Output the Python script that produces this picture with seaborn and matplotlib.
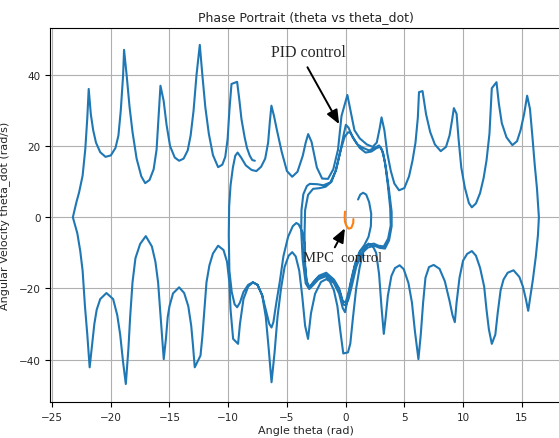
import numpy as np
import pandas as pd
import matplotlib
matplotlib.use("Agg")
import matplotlib.pyplot as plt
import seaborn as sns

# ---- PID trajectory (theta [rad], theta_dot [rad/s]), in time order ----
pid_start = [(1.06, 5.0), (1.25, 6.4), (1.49, 6.9), (1.75, 6.4), (2.0, 4.3), (2.18, 1.0),
             (2.15, -2.5), (1.95, -5.5), (1.6, -7.8), (1.2, -9.6), (0.85, -12.5), (0.55, -16.5),
             (0.25, -21.0), (0.0, -24.0), (-0.25, -23.5), (-0.55, -20.0), (-1.0, -17.5),
             (-1.65, -15.6), (-2.25, -16.4), (-2.75, -18.2), (-3.05, -19.6)]

pid_loop_1 = [(-3.3, -18.5), (-3.45, -13.5), (-3.5, -5.0), (-3.45, 2.0), (-3.2, 6.3), (-2.77, 8.0),
              (-2.2, 8.2), (-1.7, 8.6), (-1.2, 10.0), (-0.8, 13.5), (-0.45, 18.5), (-0.15, 23.5),
              (0.02, 26.0), (0.25, 25.2), (0.6, 22.5), (1.0, 20.5), (1.5, 19.5), (2.0, 18.8),
              (2.5, 19.6), (2.85, 20.2), (3.1, 19.0), (3.35, 15.5), (3.6, 9.0), (3.8, 2.5),
              (3.84, -2.3), (3.62, -6.0), (3.25, -8.2), (2.8, -8.0), (2.4, -7.4), (1.85, -7.8),
              (1.25, -9.6), (0.8, -13.5), (0.45, -18.5), (0.15, -23.5), (-0.05, -26.7),
              (-0.25, -25.5), (-0.55, -21.5), (-1.0, -18.5), (-1.7, -16.6), (-2.3, -17.4),
              (-2.8, -19.2), (-3.1, -20.2)]

pid_loop_2 = [(-3.4, -18.6), (-3.65, -12.0), (-3.78, -4.0), (-3.76, 2.0), (-3.6, 6.5), (-3.3, 8.8),
              (-3.05, 9.4), (-2.4, 9.3), (-1.9, 9.0), (-1.3, 9.8), (-0.85, 13.0), (-0.45, 18.5),
              (-0.1, 22.5), (0.2, 23.9), (0.4, 23.8), (0.75, 21.8), (1.2, 19.5), (1.7, 18.2),
              (2.2, 18.5), (2.65, 19.5), (2.95, 19.8), (3.2, 18.0), (3.45, 13.5), (3.7, 7.5),
              (3.92, 1.5), (3.92, -2.5), (3.7, -6.5), (3.35, -8.8), (2.9, -8.6), (2.45, -8.0),
              (1.9, -8.5), (1.35, -10.2), (0.9, -14.0), (0.55, -19.0), (0.25, -23.0),
              (0.0, -24.8), (-0.2, -24.5), (-0.5, -21.0), (-1.0, -17.8), (-1.7, -16.0),
              (-2.3, -16.8), (-2.8, -18.6), (-3.1, -19.8)]

pid_escape_left = [(-3.35, -17.5), (-3.5, -12.0), (-3.5, -7.5), (-3.7, -4.0), (-4.0, -2.0),
                   (-4.2, -1.6), (-4.5, -2.5), (-4.9, -5.5), (-5.3, -11.0), (-5.6, -18.0),
                   (-5.9, -24.0), (-6.15, -29.5), (-6.31, -31.0), (-6.5, -30.0), (-6.8, -26.0),
                   (-7.1, -22.0), (-7.5, -19.0), (-7.9, -18.3), (-8.3, -19.0), (-8.7, -21.0),
                   (-9.0, -24.0), (-9.24, -25.3), (-9.45, -24.5), (-9.7, -21.0), (-9.9, -15.0),
                   (-9.95, -5.0), (-9.92, 3.0), (-9.8, 9.0), (-9.6, 14.0), (-9.4, 17.3),
                   (-9.2, 18.2)]

pid_swing_right = [(-8.9, 16.8), (-8.5, 14.6), (-8.0, 13.3), (-7.6, 13.0), (-7.2, 14.2),
                   (-6.85, 16.5), (-6.6, 21.0), (-6.45, 27.0), (-6.32, 31.4), (-6.1, 28.5),
                   (-5.85, 24.5), (-5.45, 18.5), (-5.0, 13.0), (-4.55, 11.4), (-4.1, 12.8),
                   (-3.65, 17.3), (-3.4, 21.0), (-3.19, 23.4), (-2.9, 21.2), (-2.45, 14.0),
                   (-2.0, 10.9), (-1.5, 10.8), (-1.05, 13.5), (-0.65, 19.0), (-0.35, 28.5),
                   (-0.1, 31.5), (0.15, 34.4), (0.45, 29.5), (0.75, 24.5), (1.2, 22.2),
                   (1.8, 20.5), (2.3, 19.8), (2.65, 21.0), (2.9, 25.0), (3.06, 28.1),
                   (3.3, 24.5), (3.55, 18.0), (3.85, 13.0), (4.15, 9.5), (4.55, 7.6), (5.0, 8.2),
                   (5.4, 11.5), (5.7, 16.0), (5.95, 21.0), (6.15, 28.0), (6.25, 35.2),
                   (6.55, 35.5), (6.85, 29.0), (7.2, 24.0), (7.6, 20.5), (8.1, 18.6),
                   (8.55, 19.8), (8.85, 23.0), (9.05, 27.0), (9.22, 30.7), (9.45, 29.1),
                   (9.62, 22.0), (9.85, 14.0), (10.15, 8.4), (10.5, 4.0), (10.75, 2.8),
                   (11.1, 3.9), (11.45, 6.8), (11.75, 11.0), (12.0, 16.0), (12.25, 23.5),
                   (12.45, 36.3), (12.85, 38.0), (13.05, 32.0), (13.3, 26.5), (13.7, 22.5),
                   (14.2, 20.3), (14.6, 21.4), (14.9, 24.5), (15.2, 29.0), (15.46, 34.2),
                   (15.7, 30.5), (15.9, 23.0), (16.1, 15.0), (16.3, 8.0), (16.46, 0.0)]

pid_swing_left = [(16.38, -5.0), (16.2, -11.0), (15.95, -17.5), (15.75, -22.0), (15.55, -26.3),
                  (15.35, -23.0), (15.1, -19.5), (14.8, -16.8), (14.3, -14.9), (13.8, -15.6),
                  (13.45, -17.5), (13.2, -20.5), (12.95, -27.0), (12.75, -33.0), (12.45, -35.6),
                  (12.2, -31.5), (12.0, -26.0), (11.8, -19.5), (11.45, -14.2), (11.1, -10.8),
                  (10.75, -9.5), (10.35, -10.3), (10.0, -12.2), (9.7, -17.0), (9.45, -24.0),
                  (9.3, -29.5), (9.1, -27.5), (8.85, -23.5), (8.45, -18.0), (8.0, -14.5),
                  (7.5, -13.4), (7.1, -14.0), (6.8, -17.0), (6.6, -24.0), (6.4, -33.0),
                  (6.2, -39.9), (5.9, -32.0), (5.65, -24.0), (5.35, -18.5), (4.95, -14.6),
                  (4.6, -13.5), (4.2, -14.3), (3.9, -16.5), (3.6, -22.0), (3.4, -28.5),
                  (3.25, -32.8), (3.05, -25.0), (2.85, -16.0), (2.6, -10.0), (2.3, -8.0),
                  (1.95, -7.4), (1.55, -9.0), (1.2, -14.0), (0.9, -20.0), (0.6, -29.0),
                  (0.4, -35.5), (0.2, -38.0), (-0.2, -38.3), (-0.45, -32.0), (-0.7, -25.0),
                  (-1.0, -20.5), (-1.35, -18.0), (-1.65, -17.4), (-2.1, -18.2), (-2.6, -21.5),
                  (-2.95, -27.0), (-3.2, -34.2), (-3.45, -30.5), (-3.7, -22.0), (-3.95, -15.0),
                  (-4.25, -11.0), (-4.55, -9.8), (-4.85, -10.8), (-5.2, -14.0), (-5.5, -20.0),
                  (-5.8, -28.0), (-6.05, -38.0), (-6.31, -46.4), (-6.55, -37.0), (-6.8, -28.0),
                  (-7.1, -22.0), (-7.5, -19.0), (-7.9, -18.3), (-8.3, -19.5), (-8.7, -23.0),
                  (-9.0, -30.0), (-9.16, -35.6), (-9.58, -34.2), (-9.8, -26.0), (-9.9, -18.3),
                  (-10.1, -12.5), (-10.4, -9.2), (-10.86, -8.0), (-11.3, -10.2), (-11.6, -13.5),
                  (-11.85, -18.3), (-12.05, -27.0), (-12.2, -33.5), (-12.36, -38.9),
                  (-12.85, -42.2), (-13.0, -36.0), (-13.15, -30.5), (-13.4, -25.0),
                  (-13.75, -21.3), (-14.18, -19.7), (-14.7, -21.4), (-15.0, -25.0),
                  (-15.15, -28.0), (-15.3, -34.0), (-15.49, -39.9), (-15.6, -35.0),
                  (-15.75, -28.0), (-15.97, -18.3), (-16.2, -12.5), (-16.5, -8.2),
                  (-17.02, -5.3), (-17.5, -7.5), (-17.9, -11.5), (-18.15, -18.3), (-18.35, -28.0),
                  (-18.5, -37.0), (-18.72, -46.9), (-18.95, -40.8), (-19.2, -33.0),
                  (-19.45, -27.5), (-19.8, -23.0), (-20.37, -21.3), (-20.9, -23.0),
                  (-21.2, -26.0), (-21.4, -30.0), (-21.6, -36.0), (-21.8, -42.2), (-22.0, -33.0),
                  (-22.2, -25.0), (-22.4, -15.0), (-22.6, -9.5), (-22.85, -4.5), (-23.23, 0.0)]

pid_final = [(-22.93, 4.2), (-22.7, 7.0), (-22.4, 11.7), (-22.17, 19.2), (-22.0, 28.0),
             (-21.88, 36.1), (-21.7, 29.0), (-21.5, 24.5), (-21.26, 21.0), (-20.9, 18.3),
             (-20.45, 17.0), (-20.0, 17.4), (-19.6, 19.5), (-19.35, 23.0), (-19.15, 30.0),
             (-18.95, 40.0), (-18.87, 47.1), (-18.65, 40.0), (-18.4, 31.0), (-18.15, 24.0),
             (-17.8, 16.5), (-17.4, 11.5), (-17.07, 9.6), (-16.7, 10.5), (-16.35, 13.5),
             (-16.1, 19.0), (-15.95, 27.0), (-15.77, 37.0), (-15.5, 32.8), (-15.25, 26.0),
             (-14.95, 20.0), (-14.55, 16.8), (-14.18, 15.9), (-13.8, 16.5), (-13.45, 18.8),
             (-13.2, 23.0), (-12.95, 30.0), (-12.7, 40.0), (-12.42, 48.5), (-12.2, 40.0),
             (-11.95, 31.0), (-11.65, 23.5), (-11.3, 17.5), (-10.86, 14.1), (-10.5, 14.8),
             (-10.25, 17.0), (-10.05, 22.0), (-9.9, 30.0), (-9.72, 37.5), (-9.24, 38.1),
             (-9.05, 33.0), (-8.87, 27.6), (-8.6, 22.5), (-8.4, 19.5), (-8.16, 17.3),
             (-7.95, 16.1), (-7.73, 15.9)]

# ---- MPC trajectory ----
mpc_theta = [-0.05, -0.08, -0.06, 0.05, 0.25, 0.48, 0.65, 0.66]
mpc_theta_dot = [1.6, 0.2, -1.2, -2.3, -3.2, -3.0, -1.6, -0.5]

pid_segments = [pid_start, pid_loop_1, pid_loop_2, pid_escape_left,
                pid_swing_right, pid_swing_left, pid_final]
pid_points = [p for seg in pid_segments for p in seg]
pid_df = pd.DataFrame(pid_points, columns=["theta", "theta_dot"])
pid_df["step"] = np.arange(len(pid_df))
mpc_df = pd.DataFrame({"theta": mpc_theta, "theta_dot": mpc_theta_dot})

sns.set_style("ticks")
plt.rcParams["font.family"] = ["DejaVu Sans"]

fig = plt.figure(figsize=(5.59, 4.39), dpi=100)
ax = fig.add_axes([0.0898, 0.0813, 0.9156, 0.852])

sns.lineplot(data=pid_df, x="theta", y="theta_dot", sort=False, estimator=None,
             color="#1f77b4", lw=1.5, ax=ax)
sns.lineplot(data=mpc_df, x="theta", y="theta_dot", sort=False, estimator=None,
             color="#ff7f0e", lw=1.5, ax=ax)

ax.set_xlim(-25.16, 18.43)
ax.set_ylim(-52.04, 53.16)
ax.set_xticks([-25, -20, -15, -10, -5, 0, 5, 10, 15])
ax.set_yticks([-40, -20, 0, 20, 40])
ax.grid(True, color="#b0b0b0", lw=0.8)
for s in ax.spines.values():
    s.set_color("black")
    s.set_linewidth(0.8)
ax.tick_params(labelsize=7.5, length=3.5, width=0.8, color="black")

ax.set_title("Phase Portrait (theta vs theta_dot)", fontsize=9, pad=6)
ax.set_xlabel("Angle theta (rad)", fontsize=8)
ax.set_ylabel("Angular Velocity theta_dot (rad/s)", fontsize=8)
ax.xaxis.set_label_coords(0.5, -0.062)
ax.yaxis.set_label_coords(-0.078, 0.5)

serif = ["Liberation Serif", "DejaVu Serif"]
arrow = dict(arrowstyle="-|>,head_length=0.6,head_width=0.25", color="black",
             lw=1.4, mutation_scale=14, shrinkA=0, shrinkB=0)
ax.annotate("", xy=(-0.55, 26.2), xytext=(-3.25, 42.2), arrowprops=arrow)
ax.text(-6.37, 46.4, "PID control", family=serif, fontsize=11.5, ha="left", va="center")
ax.annotate("", xy=(-0.06, -3.1), xytext=(-0.92, -8.45), arrowprops=arrow)
ax.text(-3.65, -11.25, "MPC  control", family=serif, fontsize=10.5, ha="left", va="center")

fig.savefig("out.png", dpi=100)
